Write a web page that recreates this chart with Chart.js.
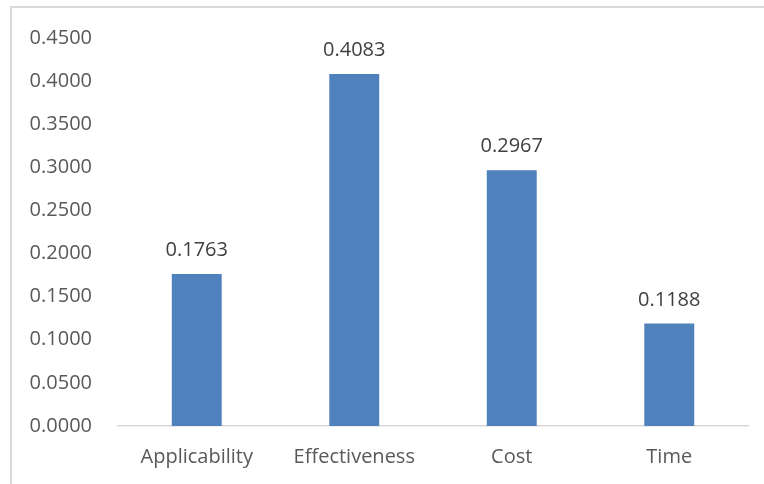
<!DOCTYPE html>
<html lang="en">
<head>
  <meta charset="UTF-8" />
  <title>Weights</title>
  <script src="https://cdn.jsdelivr.net/npm/chart.js"></script>
  <style>
    html, body { margin: 0; padding: 0; background: #fff; }
    #wrap { position: relative; width: 764px; height: 484px; overflow: hidden; }
    #frame { position: absolute; left: 10px; top: 6px; width: 800px; height: 600px; border: 2px solid #d9d9d9; }
    #chart { position: absolute; left: 0; top: 0; }
  </style>
</head>
<body>
  <div id="wrap">
    <div id="frame"></div>
    <canvas id="chart" width="764" height="484"></canvas>
  </div>

  <script>
    // Datos del grafico
    const categorias = ['Applicability', 'Effectiveness', 'Cost', 'Time'];
    const pesos = [0.1763, 0.4083, 0.2967, 0.1188];

    const fuente = '"Open Sans", sans-serif';

    // Etiquetas de valor encima de cada barra
    const etiquetasValor = {
      id: 'etiquetasValor',
      afterDatasetsDraw(chart) {
        const ctx = chart.ctx;
        const meta = chart.getDatasetMeta(0);
        ctx.save();
        ctx.font = '20px ' + fuente;
        ctx.fillStyle = '#404040';
        ctx.textAlign = 'center';
        ctx.textBaseline = 'alphabetic';
        meta.data.forEach((bar, i) => {
          ctx.fillText(pesos[i].toFixed(4), bar.x, bar.y - 18);
        });
        ctx.restore();
      }
    };

    const ctx = document.getElementById('chart').getContext('2d');
    new Chart(ctx, {
      type: 'bar',
      data: {
        labels: categorias,
        datasets: [{
          data: pesos,
          backgroundColor: '#4f81bd',
          borderWidth: 0,
          categoryPercentage: 1,
          barPercentage: 0.317
        }]
      },
      options: {
        responsive: false,
        animation: false,
        layout: { padding: { top: 36, right: 16, left: 0, bottom: 0 } },
        plugins: {
          legend: { display: false },
          tooltip: { enabled: false }
        },
        scales: {
          x: {
            grid: { display: false, drawTicks: false },
            border: { display: true, color: '#d9d9d9', width: 1.5 },
            ticks: { color: '#595959', font: { family: fuente, size: 20 }, padding: 19 },
            afterFit(scale) { scale.height = 58; }
          },
          y: {
            min: 0,
            max: 0.45,
            grid: { display: false, drawTicks: false },
            border: { display: false },
            ticks: {
              stepSize: 0.05,
              color: '#595959',
              font: { family: fuente, size: 20 },
              padding: 26,
              callback: v => v.toFixed(4)
            },
            afterFit(scale) { scale.width = 118; }
          }
        }
      },
      plugins: [etiquetasValor]
    });
  </script>
</body>
</html>
